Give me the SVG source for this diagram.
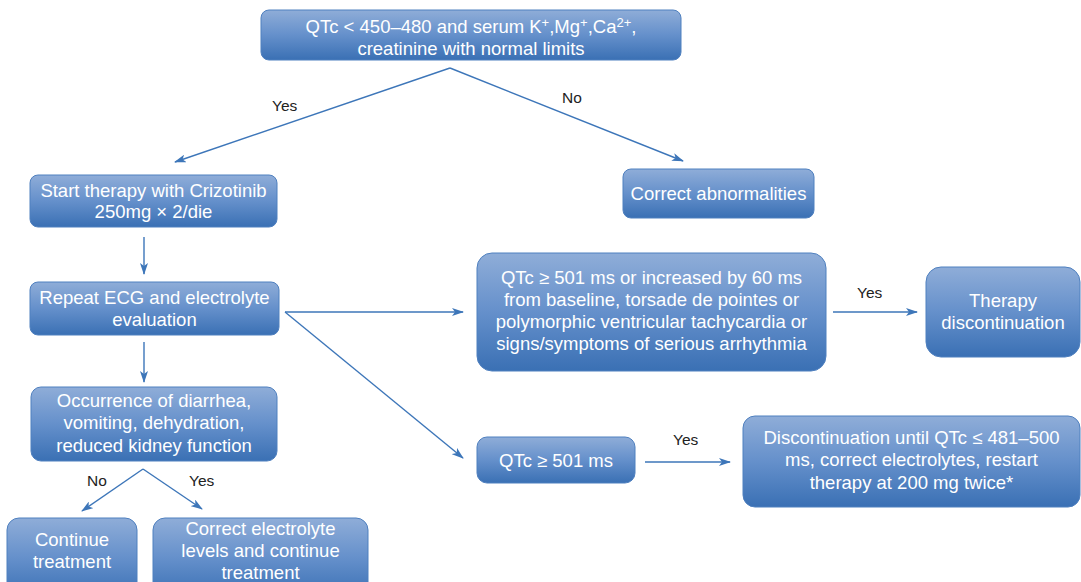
<svg xmlns="http://www.w3.org/2000/svg" width="1081" height="582" viewBox="0 0 1081 582">
  <defs>
    <linearGradient id="boxFill" x1="0" y1="0" x2="0" y2="1">
      <stop offset="0" stop-color="#8fadd8"/>
      <stop offset="0.5" stop-color="#6590cb"/>
      <stop offset="1" stop-color="#3a70b4"/>
    </linearGradient>
    <marker id="arrow" viewBox="0 0 12 8" refX="11" refY="4" markerWidth="12" markerHeight="8" markerUnits="userSpaceOnUse" orient="auto">
      <path d="M0,0 L12,4 L0,8 L3,4 Z" fill="#3d76b9"/>
    </marker>
  </defs>
  <style>
    .box { fill: url(#boxFill); stroke: #4f80bf; stroke-width: 1; }
    .t { font-family: "Liberation Sans", Arial, sans-serif; font-size: 18.5px; fill: #ffffff; text-anchor: middle; }
    .sup { font-size: 13px; }
    .lbl { font-family: "Liberation Sans", Arial, sans-serif; font-size: 15.5px; fill: #222222; }
    .conn { fill: none; stroke: #3d76b9; stroke-width: 1.4; marker-end: url(#arrow); }
  </style>
  <rect width="1081" height="582" fill="#ffffff"/>

  <g id="connectors">
    <path class="conn" d="M450,68 L175,162"/>
    <path class="conn" d="M450,68 L683,161"/>
    <path class="conn" d="M144,237 L144,274"/>
    <path class="conn" d="M144,342 L144,382"/>
    <path class="conn" d="M285,312 L463,312"/>
    <path class="conn" d="M285,312 L463,458"/>
    <path class="conn" d="M833,312 L917,312"/>
    <path class="conn" d="M645,462 L730,462"/>
    <path class="conn" d="M143,469 L82,511"/>
    <path class="conn" d="M143,469 L202,509"/>
    <text class="lbl" x="272" y="111">Yes</text>
    <text class="lbl" x="562" y="103">No</text>
    <text class="lbl" x="857" y="298">Yes</text>
    <text class="lbl" x="673" y="445">Yes</text>
    <text class="lbl" x="87" y="486">No</text>
    <text class="lbl" x="189" y="486">Yes</text>
  </g>

  <g id="n-start-criteria">
    <rect class="box" x="261" y="10" width="420" height="50" rx="8"/>
    <text class="t" x="471" y="33">QTc &lt; 450–480 and serum K<tspan class="sup" dy="-6">+</tspan><tspan dy="6">,Mg</tspan><tspan class="sup" dy="-6">+</tspan><tspan dy="6">,Ca</tspan><tspan class="sup" dy="-6">2+</tspan><tspan dy="6">,</tspan></text>
    <text class="t" x="471" y="55">creatinine with normal limits</text>
  </g>

  <g id="n-start-therapy">
    <rect class="box" x="30" y="175" width="247" height="52" rx="8"/>
    <text class="t" x="153.5" y="197">Start therapy with Crizotinib</text>
    <text class="t" x="153.5" y="218">250mg × 2/die</text>
  </g>

  <g id="n-correct-abnormalities">
    <rect class="box" x="623" y="169" width="191" height="49" rx="8"/>
    <text class="t" x="718.5" y="200">Correct abnormalities</text>
  </g>

  <g id="n-repeat-ecg">
    <rect class="box" x="30" y="282" width="249" height="53" rx="8"/>
    <text class="t" x="154.5" y="304">Repeat ECG and electrolyte</text>
    <text class="t" x="154.5" y="326">evaluation</text>
  </g>

  <g id="n-severe-qtc">
    <rect class="box" x="477" y="253" width="349" height="118" rx="15"/>
    <text class="t" x="651.5" y="284">QTc ≥ 501 ms or increased by 60 ms</text>
    <text class="t" x="651.5" y="306">from baseline, torsade de pointes or</text>
    <text class="t" x="651.5" y="328">polymorphic ventricular tachycardia or</text>
    <text class="t" x="651.5" y="350">signs/symptoms of serious arrhythmia</text>
  </g>

  <g id="n-therapy-discontinuation">
    <rect class="box" x="926" y="267" width="154" height="90" rx="15"/>
    <text class="t" x="1003" y="307">Therapy</text>
    <text class="t" x="1003" y="329">discontinuation</text>
  </g>

  <g id="n-occurrence">
    <rect class="box" x="31" y="387" width="246" height="74" rx="10"/>
    <text class="t" x="154" y="407">Occurrence of diarrhea,</text>
    <text class="t" x="154" y="429">vomiting, dehydration,</text>
    <text class="t" x="154" y="452">reduced kidney function</text>
  </g>

  <g id="n-qtc-501">
    <rect class="box" x="477" y="437" width="158" height="46" rx="10"/>
    <text class="t" x="556" y="467">QTc ≥ 501 ms</text>
  </g>

  <g id="n-discontinuation-until">
    <rect class="box" x="743" y="416" width="337" height="91" rx="12"/>
    <text class="t" x="911.5" y="444">Discontinuation until QTc ≤ 481–500</text>
    <text class="t" x="911.5" y="466">ms, correct electrolytes, restart</text>
    <text class="t" x="911.5" y="489">therapy at 200 mg twice*</text>
  </g>

  <g id="n-continue-treatment">
    <rect class="box" x="7" y="518" width="130" height="80" rx="12"/>
    <text class="t" x="72" y="546">Continue</text>
    <text class="t" x="72" y="568">treatment</text>
  </g>

  <g id="n-correct-electrolyte">
    <rect class="box" x="153" y="518" width="215" height="80" rx="12"/>
    <text class="t" x="260.5" y="535">Correct electrolyte</text>
    <text class="t" x="260.5" y="557">levels and continue</text>
    <text class="t" x="260.5" y="579">treatment</text>
  </g>
</svg>
